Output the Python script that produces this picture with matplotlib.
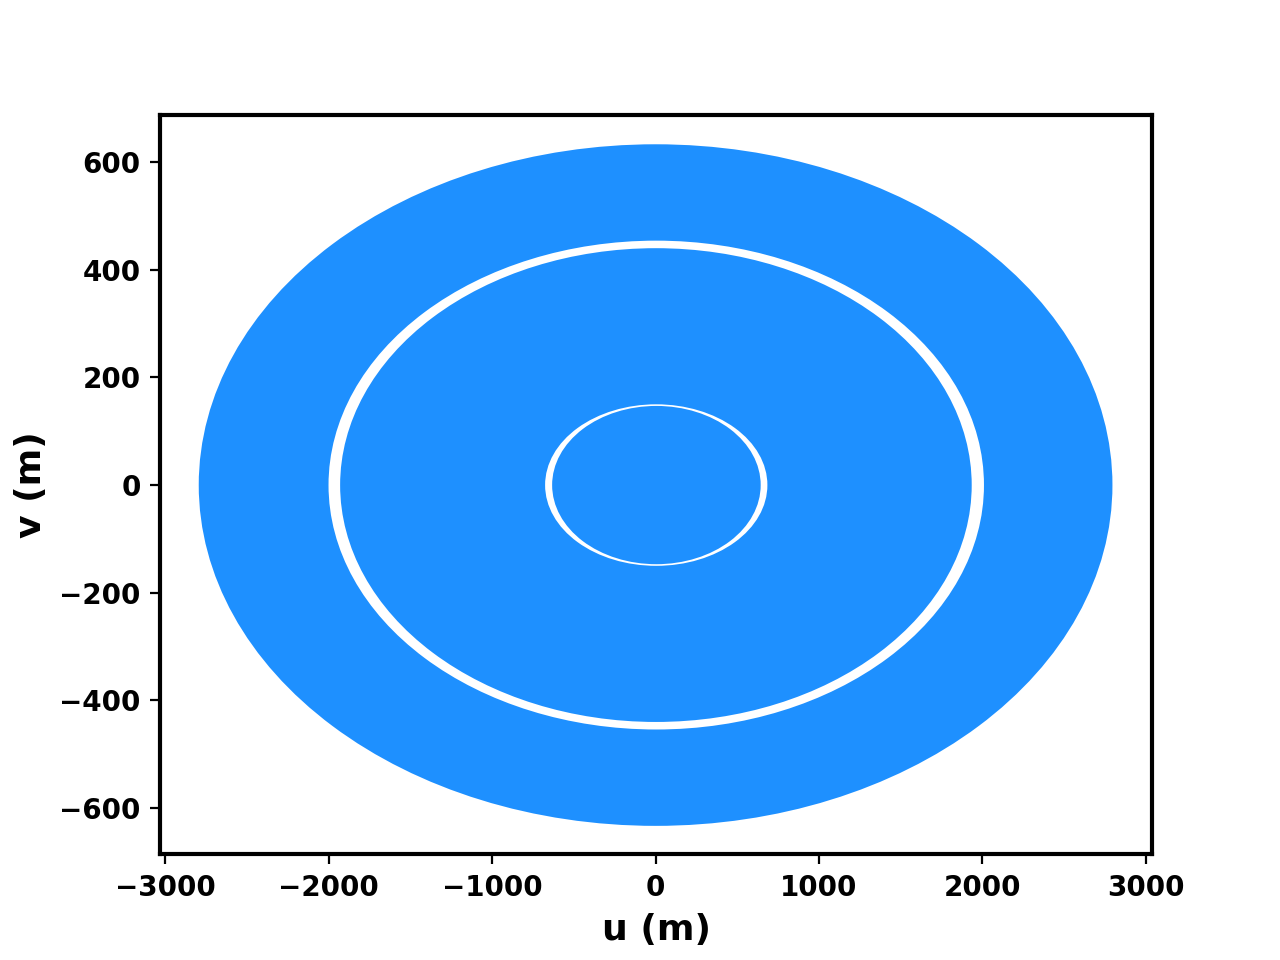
"""
uv coverage of the array, drawn as nested filled ellipses
"""

import matplotlib

matplotlib.use("Agg")
import matplotlib.pyplot as plt
from matplotlib.patches import Ellipse

# semi-axes (m) of each boundary, outermost first, and whether it is covered
semi_u = [2795, 2005, 1932, 680, 638]
semi_v = [633, 454, 440, 150, 147]
centre_u = [0, 4, 2, 4, 5]
covered = [True, False, True, False, True]

plt.rcParams["font.weight"] = "bold"
plt.rcParams["axes.labelweight"] = "bold"

fig, ax = plt.subplots(figsize=(6.4, 4.8), dpi=200)

for su, sv, cu, cov in zip(semi_u, semi_v, centre_u, covered):
    ax.add_patch(
        Ellipse(
            (cu, 0),
            2 * su,
            2 * sv,
            facecolor="dodgerblue" if cov else "white",
            edgecolor="none",
        )
    )

ax.set_xlim(-3032, 3037)
ax.set_ylim(-686, 687)
ax.set_xticks([-3000, -2000, -1000, 0, 1000, 2000, 3000])
ax.set_yticks([-600, -400, -200, 0, 200, 400, 600])
ax.set_xlabel("u (m)", fontsize=13)
ax.set_ylabel("v (m)", fontsize=13)
for s in ax.spines.values():
    s.set_linewidth(1.5)

fig.savefig("out.png")
